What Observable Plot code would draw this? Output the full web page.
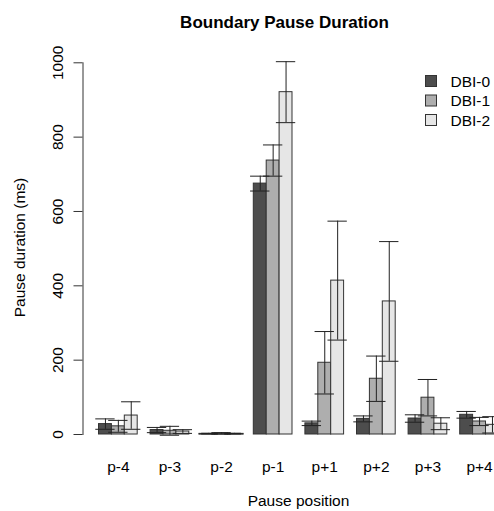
<!DOCTYPE html>
<html><head><meta charset="utf-8">
<script src="https://cdn.jsdelivr.net/npm/d3@7"></script>
<script src="https://cdn.jsdelivr.net/npm/@observablehq/plot@0.6"></script>
<style>
body{margin:0;background:#fff;overflow:hidden}
#wrap{position:relative;width:494px;height:511px;font-family:"Liberation Sans",Arial,sans-serif;color:#000}
#wrap svg{position:absolute;left:0;top:0}
</style></head><body>
<div id="wrap"></div>
<script>
const positions = ["p-4","p-3","p-2","p-1","p+1","p+2","p+3","p+4"];
const series = ["DBI-0","DBI-1","DBI-2"];
const dbi0 = [28, 12, 2, 675, 30, 42, 43, 53];
const dbi0Err = [14, 7, 1, 20, 6, 8, 10, 9];
const dbi1 = [22, 10, 3, 737, 193, 150, 99, 35];
const dbi1Err = [16, 12, 2, 42, 84, 61, 49, 11];
const dbi2 = [51, 8, 2, 921, 414, 358, 29, 26];
const dbi2Err = [37, 5, 1, 82, 160, 161, 16, 22];
const yTicks = [0, 200, 400, 600, 800, 1000];
const colors = ["#4D4D4D", "#AEAEAE", "#E6E6E6"];
const titleText = "Boundary Pause Duration";
const xLabel = "Pause position";
const yLabel = "Pause duration (ms)";

const vals = [dbi0, dbi1, dbi2], errs = [dbi0Err, dbi1Err, dbi2Err];
const rows = [];
positions.forEach((p, gi) => series.forEach((s, si) =>
  rows.push({p, s, gi, si, v: vals[si][gi], e: errs[si][gi]})));
const left = d => d.gi * 4 + d.si + 1;
const ink = "#222";

const chart = Plot.plot({
  width: 494, height: 511,
  marginLeft: 82.5, marginRight: -20.4, marginTop: 62.3, marginBottom: 77,
  style: {fontFamily: '"Liberation Sans", Arial, sans-serif', fontSize: "15.5px", color: "#000", background: "transparent", overflow: "hidden"},
  x: {type: "linear", domain: [-0.24, 33.24], axis: null},
  y: {domain: [0, 1000], axis: null},
  color: {domain: series, range: colors},
  marks: [
    Plot.frame({anchor: "left", stroke: "#333"}),
    Plot.axisY(yTicks, {tickSize: 9, tickRotate: -90, tickPadding: 11.5, label: null, stroke: "#333", tickFormat: d => String(d)}),
    Plot.axisX(positions.map((p, i) => i * 4 + 2.5), {tickSize: 0, tickPadding: 26, tickFormat: d => positions[Math.round((d - 2.5) / 4)], label: null}),
    Plot.rect(rows, {x1: left, x2: d => left(d) + 1, y1: 0, y2: "v", fill: "s", stroke: "#333", strokeWidth: 1}),
    Plot.ruleX(rows, {x: d => left(d) + 0.5, y1: d => d.v - d.e, y2: d => d.v + d.e, stroke: ink}),
    Plot.ruleY(rows, {y: d => d.v + d.e, x1: d => left(d) - 0.25, x2: d => left(d) + 1.25, stroke: ink}),
    Plot.ruleY(rows, {y: d => d.v - d.e, x1: d => left(d) - 0.25, x2: d => left(d) + 1.25, stroke: ink})
  ]
});
document.getElementById("wrap").appendChild(chart);

// overlay: title, axis titles, legend
const ov = d3.select("#wrap").append("svg")
  .attr("width", 494).attr("height", 511)
  .style("font-family", '"Liberation Sans", Arial, sans-serif')
  .style("pointer-events", "none");
ov.append("text").attr("x", 284.5).attr("y", 28).attr("text-anchor", "middle")
  .attr("font-weight", "bold").attr("font-size", 17).text(titleText);
ov.append("text").attr("x", 298.5).attr("y", 506).attr("text-anchor", "middle")
  .attr("font-size", 15.5).text(xLabel);
ov.append("text").attr("transform", "translate(25,247.5) rotate(-90)").attr("text-anchor", "middle")
  .attr("font-size", 15.5).text(yLabel);
const lg = ov.append("g");
series.forEach((s, i) => {
  const cy = 81 + i * 19.5;
  lg.append("rect").attr("x", 425.5).attr("y", cy - 5.5).attr("width", 11).attr("height", 11)
    .attr("fill", colors[i]).attr("stroke", "#333").attr("stroke-width", 1);
  lg.append("text").attr("x", 450.5).attr("y", cy + 5.5).attr("font-size", 15.5).text(s);
});
</script>
</body></html>
